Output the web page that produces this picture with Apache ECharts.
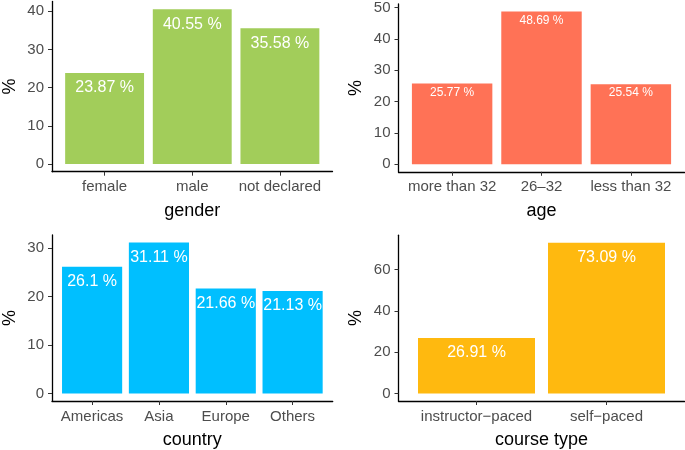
<!DOCTYPE html>
<html>
<head>
<meta charset="utf-8">
<script src="https://cdn.jsdelivr.net/npm/echarts@6/dist/echarts.min.js"></script>
<style>
html,body{margin:0;padding:0;background:#fff;}
#chart{width:685px;height:450px;}
</style>
</head>
<body>
<div id="chart"></div>
<script>
// ---- data ----
var genderCats = ['female', 'male', 'not declared'];
var genderVals = [23.87, 40.55, 35.58];
var genderTicks = [0, 10, 20, 30, 40];

var ageCats = ['more than 32', '26\u201332', 'less than 32'];
var ageVals = [25.77, 48.69, 25.54];
var ageTicks = [0, 10, 20, 30, 40, 50];

var countryCats = ['Americas', 'Asia', 'Europe', 'Others'];
var countryVals = [26.1, 31.11, 21.66, 21.13];
var countryTicks = [0, 10, 20, 30];

var courseCats = ['instructor\u2212paced', 'self\u2212paced'];
var courseVals = [26.91, 73.09];
var courseTicks = [0, 20, 40, 60];

var panels = [
  {cats: genderCats, vals: genderVals, ticks: genderTicks, title: 'gender', color: '#A2CD5A', labelSize: 16, labelDist: 7,
   grid: {left: 46.5, top: 1.5, width: 286, height: 170.2}},
  {cats: ageCats, vals: ageVals, ticks: ageTicks, title: 'age', color: '#FF7256', labelSize: 12, labelDist: 3,
   grid: {left: 398.5, top: 1.8, width: 286, height: 170}},
  {cats: countryCats, vals: countryVals, ticks: countryTicks, title: 'country', color: '#00BFFF', labelSize: 16, labelDist: 7,
   grid: {left: 46.7, top: 235, width: 286, height: 170.4}},
  {cats: courseCats, vals: courseVals, ticks: courseTicks, title: 'course type', color: '#FFB90F', labelSize: 16, labelDist: 7,
   grid: {left: 398.5, top: 235.2, width: 286, height: 170.2}}
];

var FONT = '"Liberation Sans", Arial, Helvetica, sans-serif';
var grids = [], xAxes = [], yAxes = [], series = [];

panels.forEach(function (p, i) {
  grids.push(p.grid);
  var n = p.cats.length;
  var idx = p.cats.map(function (_, k) { return k; });
  var ymax = Math.max.apply(null, p.vals);
  xAxes.push({
    type: 'value', gridIndex: i, min: -0.6, max: n - 1 + 0.6,
    name: p.title, nameLocation: 'middle', nameGap: 30,
    nameTextStyle: {color: '#000', fontSize: 18, fontFamily: FONT},
    axisLine: {show: true, onZero: false, lineStyle: {color: '#000', width: 1.3}},
    axisTick: {show: true, length: 4, customValues: idx, lineStyle: {color: '#333'}},
    axisLabel: {show: true, customValues: idx, margin: 8, color: '#4D4D4D', fontSize: 15, fontFamily: FONT,
      formatter: (function (cats) { return function (v) { return cats[Math.round(v)]; }; })(p.cats)},
    splitLine: {show: false}
  });
  yAxes.push({
    type: 'value', gridIndex: i, min: -0.05 * ymax, max: 1.05 * ymax,
    name: '%', nameLocation: 'middle', nameGap: 33, nameRotate: 90,
    nameTextStyle: {color: '#000', fontSize: 18, fontFamily: FONT},
    axisLine: {show: true, onZero: false, lineStyle: {color: '#000', width: 1.3}},
    axisTick: {show: true, length: 4, customValues: p.ticks, lineStyle: {color: '#333'}},
    axisLabel: {show: true, customValues: p.ticks, margin: 8, color: '#4D4D4D', fontSize: 15, fontFamily: FONT},
    splitLine: {show: false}
  });
  series.push({
    type: 'bar', xAxisIndex: i, yAxisIndex: i, barWidth: '90%',
    data: p.vals.map(function (v, k) { return [k, v]; }),
    itemStyle: {color: p.color},
    label: {show: true, position: 'insideTop', distance: p.labelDist, color: '#fff',
      fontSize: p.labelSize, fontFamily: FONT,
      formatter: function (d) { return d.value[1] + ' %'; }},
    silent: true
  });
});

var chart = echarts.init(document.getElementById('chart'), null, {renderer: 'canvas'});
chart.setOption({
  animation: false,
  backgroundColor: '#fff',
  grid: grids, xAxis: xAxes, yAxis: yAxes, series: series
});
</script>
</body>
</html>
